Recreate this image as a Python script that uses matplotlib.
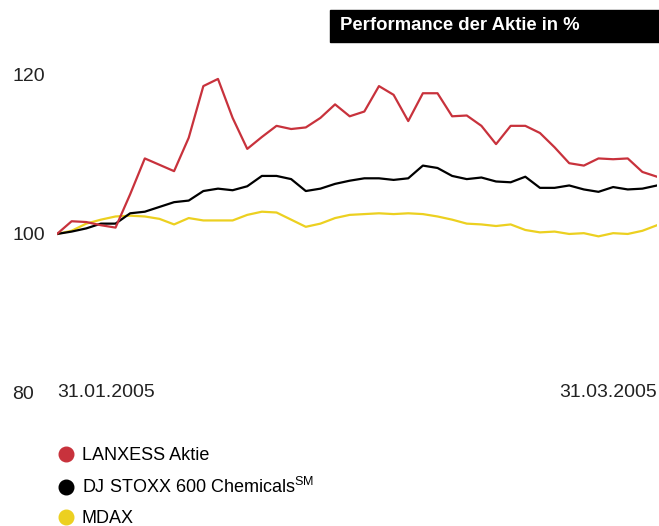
import matplotlib
matplotlib.use('Agg')
import matplotlib.pyplot as plt
from matplotlib.lines import Line2D
from matplotlib.patches import Rectangle

plt.rcParams['font.family'] = ['Liberation Sans', 'DejaVu Sans']
plt.rcParams['mathtext.fontset'] = 'custom'
plt.rcParams['mathtext.rm'] = 'Liberation Sans'

RED = '#c8323c'
YELLOW = '#ecd020'

# trading days 31.01.2005 .. 31.03.2005, indexed to 100
lanxess = [100.0, 101.6, 101.5, 101.1, 100.8, 105.0, 109.5, 108.7, 107.9, 112.1,
           118.6, 119.5, 114.6, 110.7, 112.2, 113.6, 113.2, 113.4, 114.6, 116.3,
           114.8, 115.4, 118.6, 117.5, 114.2, 117.7, 117.7, 114.8, 114.9, 113.6,
           111.3, 113.6, 113.6, 112.7, 110.9, 108.9, 108.6, 109.5, 109.4, 109.5,
           107.8, 107.2]
stoxx = [100.0, 100.3, 100.7, 101.3, 101.3, 102.6, 102.8, 103.4, 104.0, 104.2,
         105.4, 105.7, 105.5, 106.0, 107.3, 107.3, 106.9, 105.4, 105.7, 106.3,
         106.7, 107.0, 107.0, 106.8, 107.0, 108.6, 108.3, 107.3, 106.9, 107.1,
         106.6, 106.5, 107.2, 105.8, 105.8, 106.1, 105.6, 105.3, 105.9, 105.6,
         105.7, 106.1]
mdax = [100.0, 100.4, 101.3, 101.8, 102.2, 102.3, 102.2, 101.9, 101.2, 102.0,
        101.7, 101.7, 101.7, 102.4, 102.8, 102.7, 101.8, 100.9, 101.3, 102.0,
        102.4, 102.5, 102.6, 102.5, 102.6, 102.5, 102.2, 101.8, 101.3, 101.2,
        101.0, 101.2, 100.5, 100.2, 100.3, 100.0, 100.1, 99.7, 100.1, 100.0,
        100.4, 101.1]
x_labels = ['31.01.2005', '31.03.2005']
y_ticks = [80, 100, 120]
legend_labels = ['LANXESS Aktie', r'DJ STOXX 600 Chemicals$^{\rm SM}$', 'MDAX']
title = 'Performance der Aktie in %'

fig = plt.figure(figsize=(6.59, 5.26), dpi=100)
ax = fig.add_axes([0.0865, 0.2529, 0.9105, 0.6046])

days = list(range(len(lanxess)))
ax.plot(days, mdax, color=YELLOW, lw=1.6)
ax.plot(days, stoxx, color='black', lw=1.6)
ax.plot(days, lanxess, color=RED, lw=1.6)

ax.set_xlim(0, len(days) - 1)
ax.set_ylim(80, 120)
for s in ax.spines.values():
    s.set_visible(False)

ax.set_yticks(y_ticks)
ax.tick_params(axis='y', length=0, pad=32, labelsize=14, labelcolor='#222222')
for lab in ax.get_yticklabels():
    lab.set_ha('left')

ax.set_xticks([0, len(days) - 1], x_labels)
ax.tick_params(axis='x', length=0, pad=0, labelsize=14, labelcolor='#222222')
xl = ax.get_xticklabels()
xl[0].set_ha('left')
xl[1].set_ha('right')
for lab in xl:
    lab.set_va('center')

# title box
fig.patches.append(Rectangle((330 / 659, 1 - 42 / 526), 329 / 659, 32 / 526,
                             transform=fig.transFigure, color='black', zorder=0))
fig.text(340 / 659, 1 - 26 / 526, title, color='white', fontsize=13.3,
         fontweight='bold', va='center', ha='left')

handles = [Line2D([], [], ls='none', marker='o', ms=10.5, color=c)
           for c in [RED, 'black', YELLOW]]
fig.legend(handles, legend_labels, loc='upper left',
           bbox_to_anchor=(59 / 659, 1 - 447 / 526), frameon=False,
           fontsize=13, handlelength=0.8, handletextpad=0.45,
           labelspacing=0.72, borderpad=0, borderaxespad=0)

fig.savefig('out.png', dpi=100)
